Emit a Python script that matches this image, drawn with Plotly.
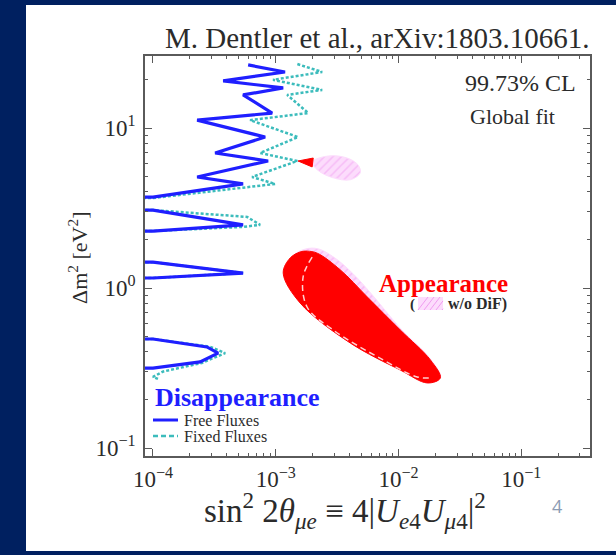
import plotly.graph_objects as go

W, H = 616, 555
L, R, T, B = 145, 590, 56, 456  # plot area in pixels

# ---------------- data ----------------
# Disappearance, free fluxes (99.73% CL contour pieces, separated by None)
free_sin2 = [5.96e-4, 1.19e-3, 3.73e-4, 1.15e-3, 5.42e-4, 9.35e-4, 2.29e-4, 8.2e-4,
             3.21e-4, 8.67e-4, 2.29e-4, 5.42e-4, 1.0e-4, 6e-5, None,
             6e-5, 1.0e-4, 5.42e-4, 1.0e-4, 6e-5, None,
             6e-5, 1.0e-4, 5.42e-4, 1.0e-4, 6e-5, None,
             6e-5, 1.0e-4, 2.75e-4, 3.39e-4, 2.42e-4, 1.0e-4, 6e-5]
free_dm2 = [24.8, 22.4, 19.7, 17.8, 16.1, 12.4, 11.2, 8.78,
            6.98, 6.22, 4.94, 4.47, 3.70, 3.68, None,
            3.07, 3.07, 2.48, 2.27, 2.27, None,
            1.45, 1.45, 1.24, 1.155, 1.155, None,
            0.48, 0.48, 0.428, 0.392, 0.345, 0.316, 0.316]

# Disappearance, fixed fluxes
fixed_sin2 = [1.50e-3, 2.39e-3, 9.5e-4, 2.39e-3, 1.24e-3, 1.84e-3, 6.18e-4, 1.52e-3,
              7.46e-4, 1.50e-3, 6.42e-4, 9.89e-4, 1.0e-4, 6e-5, None,
              6e-5, 1.0e-4, 5.85e-4, 7.46e-4, 5.42e-4, 1.0e-4, 6e-5, None,
              6e-5, 1.0e-4, 5.42e-4, 1.0e-4, 6e-5, None,
              6e-5, 1.0e-4, 2.9e-4, 3.87e-4, 2.5e-4, 1.2e-4, 1.0e-4, 1.1e-4]
fixed_dm2 = [25.1, 22.4, 20.0, 17.3, 16.1, 12.4, 11.2, 8.78,
             6.98, 6.22, 4.94, 4.47, 3.65, 3.64, None,
             3.07, 3.07, 2.78, 2.48, 2.41, 2.27, 2.27, None,
             1.45, 1.45, 1.24, 1.155, 1.155, None,
             0.48, 0.48, 0.43, 0.392, 0.34, 0.30, 0.278, 0.27]

# Appearance allowed region
app_sin2 = [1.58e-3, 1.80e-3, 2.18e-3, 3.35e-3, 5.57e-3, 1.035e-2, 1.82e-2, 2.19e-2,
            1.72e-2, 1.035e-2, 4.05e-3, 1.58e-3, 1.15e-3, 1.31e-3, 1.58e-3]
app_dm2 = [1.68, 1.70, 1.65, 1.30, 0.879, 0.546, 0.355, 0.274,
           0.255, 0.307, 0.453, 0.806, 1.24, 1.54, 1.68]

# Appearance, small island at high mass
app2_sin2 = [1.52e-3, 2.02e-3, 1.98e-3, 1.52e-3]
app2_dm2 = [6.22, 6.49, 5.71, 6.22]

# Appearance without decay-in-flight (hatched)
nodif_sin2 = [1.74e-3, 2.2e-3, 3.0e-3, 4.3e-3, 6.0e-3, 1.035e-2, 1.82e-2, 2.2e-2,
              1.72e-2, 1.035e-2, 4.05e-3, 1.6e-3, 1.2e-3, 1.4e-3, 1.74e-3]
nodif_dm2 = [1.75, 1.76, 1.55, 1.22, 0.92, 0.56, 0.36, 0.275,
             0.255, 0.31, 0.453, 0.80, 1.24, 1.60, 1.75]

nodif2_sin2 = [1.98e-3, 2.35e-3, 3.06e-3, 4.0e-3, 4.7e-3, 4.88e-3, 4.05e-3, 2.9e-3, 2.2e-3, 1.98e-3]
nodif2_dm2 = [6.13, 6.55, 6.70, 6.40, 5.85, 5.25, 4.75, 4.90, 5.45, 6.13]

# Inner (dashed) appearance contour
inner_sin2 = [1.98e-3, 1.67e-3, 1.80e-3, 2.94e-3, 7.5e-3, 1.42e-2, 1.89e-2]
inner_dm2 = [1.56, 1.17, 0.761, 0.546, 0.355, 0.278, 0.274]

x_tickvals = [1e-4, 1e-3, 1e-2, 1e-1]
x_ticktext = ["10<sup>−4</sup>", "10<sup>−3</sup>", "10<sup>−2</sup>", "10<sup>−1</sup>"]
y_tickvals = [1e-1, 1e0, 1e1]
y_ticktext = ["10<sup>−1</sup>", "10<sup>0</sup>", "10<sup>1</sup>"]
x_minor = [m * 10.0 ** e for e in (-4, -3, -2, -1) for m in range(2, 10)]
y_minor = [m * 10.0 ** e for e in (-1, 0, 1) for m in range(2, 10)]

# ---------------- styling ----------------
NAVY = "#002060"
BLUE = "#1f1fff"
CYAN = "#3cbcbc"
RED = "#ff0000"
PINK_BG = "#fcdcfc"
PINK_FG = "#f09cf0"
AXIS = "#5a5a5a"
TXT = "#2b2b2b"
SERIF = "Liberation Serif, Times New Roman, serif"


def fx(px):
    return (px - L) / (R - L)


def fy(py):
    return (B - py) / (B - T)


fig = go.Figure()

hatch = dict(shape="/", fgcolor=PINK_FG, bgcolor=PINK_BG, size=6, solidity=0.25)

fig.add_trace(go.Scatter(x=nodif_sin2, y=nodif_dm2, mode="lines", fill="toself",
                         line=dict(color=PINK_BG, width=1, shape="spline"),
                         fillpattern=hatch, hoverinfo="skip"))
fig.add_trace(go.Scatter(x=nodif2_sin2, y=nodif2_dm2, mode="lines", fill="toself",
                         line=dict(color=PINK_BG, width=1, shape="spline"),
                         fillpattern=hatch, hoverinfo="skip"))
fig.add_trace(go.Scatter(x=app_sin2, y=app_dm2, mode="lines", fill="toself",
                         fillcolor=RED, line=dict(color=RED, width=1, shape="spline"),
                         hoverinfo="skip"))
fig.add_trace(go.Scatter(x=app2_sin2, y=app2_dm2, mode="lines", fill="toself",
                         fillcolor=RED, line=dict(color=RED, width=1), hoverinfo="skip"))
fig.add_trace(go.Scatter(x=inner_sin2, y=inner_dm2, mode="lines",
                         line=dict(color="#ffd0d0", width=1.5, dash="6px,4px", shape="spline"),
                         hoverinfo="skip"))
fig.add_trace(go.Scatter(x=fixed_sin2, y=fixed_dm2, mode="lines", connectgaps=False,
                         line=dict(color=CYAN, width=2.5, dash="3px,2px"), hoverinfo="skip"))
fig.add_trace(go.Scatter(x=free_sin2, y=free_dm2, mode="lines", connectgaps=False,
                         line=dict(color=BLUE, width=3.2), hoverinfo="skip"))

axis_common = dict(
    type="log", showgrid=False, zeroline=False,
    showline=True, linecolor=AXIS, linewidth=1.5, mirror="allticks",
    ticks="inside", ticklen=7, tickwidth=1.2, tickcolor=AXIS,
    tickfont=dict(family=SERIF, size=23, color=TXT),
)

fig.update_xaxes(range=[-4.065, -0.44], tickmode="array", tickvals=x_tickvals, ticktext=x_ticktext,
                 minor=dict(tickmode="array", tickvals=x_minor, ticks="inside", ticklen=3.5,
                            tickwidth=1.2, tickcolor=AXIS, showgrid=False),
                 ticklabelstandoff=2, **axis_common)
fig.update_yaxes(range=[-1.05, 1.45], tickmode="array", tickvals=y_tickvals, ticktext=y_ticktext,
                 minor=dict(tickmode="array", tickvals=y_minor, ticks="inside", ticklen=3.5,
                            tickwidth=1.2, tickcolor=AXIS, showgrid=False),
                 ticklabelstandoff=3, **axis_common)

shapes = [
    # white slide panel
    dict(type="rect", xref="paper", yref="paper", layer="below",
         x0=fx(26), x1=fx(616), y0=fy(551), y1=fy(5),
         fillcolor="white", line=dict(width=0)),
    # legend samples
    dict(type="line", xref="paper", yref="paper", x0=fx(153), x1=fx(178), y0=fy(420), y1=fy(420),
         line=dict(color=BLUE, width=3)),
    dict(type="line", xref="paper", yref="paper", x0=fx(153), x1=fx(178), y0=fy(436), y1=fy(436),
         line=dict(color=CYAN, width=2.5, dash="5px,3px")),
    # w/o DiF swatch
    dict(type="rect", xref="paper", yref="paper", x0=fx(418), x1=fx(443), y0=fy(310), y1=fy(297),
         fillcolor=PINK_BG, line=dict(width=0)),
]
for k in range(5):
    x0 = 418 + k * 6
    x1 = min(x0 + 10, 443)
    shapes.append(dict(type="line", xref="paper", yref="paper",
                       x0=fx(x0), x1=fx(x1), y0=fy(310), y1=fy(310 - (x1 - x0) * 1.3),
                       line=dict(color=PINK_FG, width=1)))


def note(text, px, py, size, color=TXT, xanchor="left", bold=False, angle=0, family=SERIF):
    if bold:
        text = "<b>" + text + "</b>"
    return dict(text=text, x=fx(px), y=fy(py), xref="paper", yref="paper",
                xanchor=xanchor, yanchor="middle", showarrow=False, textangle=angle,
                font=dict(family=family, size=size, color=color))


annotations = [
    note("M. Dentler et al., arXiv:1803.10661.", 591, 38, 29, xanchor="right"),
    note("99.73% CL", 578, 83, 24, xanchor="right"),
    note("Global fit", 512, 117, 22, xanchor="center"),
    note("Disappearance", 153, 397, 26, color=BLUE, bold=True),
    note("Free Fluxes", 182, 420, 16),
    note("Fixed Fluxes", 182, 436, 16),
    note("Appearance", 377, 283, 25, color=RED, bold=True),
    note("(", 408, 304, 15, bold=True),
    note("w/o DiF)", 446, 304, 16, bold=True),
    note("Δm<sup>2</sup> [eV<sup>2</sup>]", 78, 258, 22, xanchor="center", angle=-90),
    note("sin<sup>2</sup> 2<i>θ</i><sub><i>μe</i></sub> ≡ 4|<i>U</i><sub><i>e</i>4</sub>"
         "<i>U</i><sub><i>μ</i>4</sub>|<sup>2</sup>", 345, 510, 33, xanchor="center"),
    note("4", 557, 506, 18, color="#8c9cb4", xanchor="center", family="Open Sans, sans-serif"),
]

fig.update_layout(
    width=W, height=H,
    margin=dict(l=L, r=W - R, t=T, b=H - B, pad=0),
    paper_bgcolor=NAVY, plot_bgcolor="white",
    showlegend=False,
    shapes=shapes, annotations=annotations,
)

fig.write_html("out.html")
